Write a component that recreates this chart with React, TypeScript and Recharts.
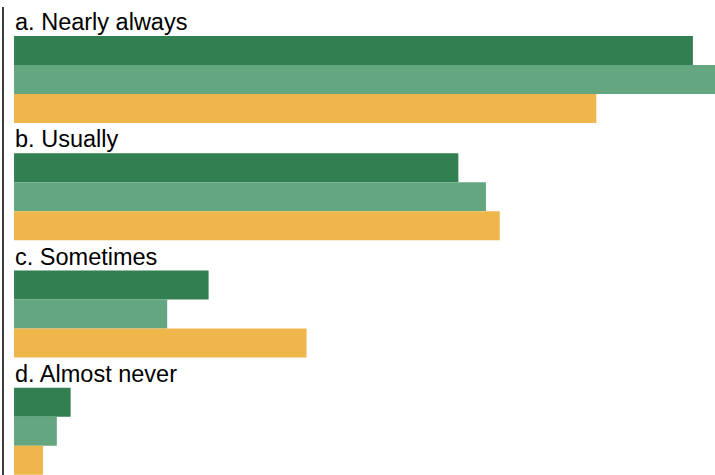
import React from "react";
import { BarChart, Bar, XAxis, YAxis, LabelList } from "recharts";

const categories = ["a. Nearly always", "b. Usually", "c. Sometimes", "d. Almost never"];
const seriesDark = [49.2, 32.2, 14.1, 4.1];
const seriesLight = [51.6, 34.2, 11.1, 3.1];
const seriesYellow = [42.2, 35.2, 21.2, 2.1];
const spacer = [0, 0, 0, 0];

const data = categories.map((label, i) => ({
  label,
  spacer: spacer[i],
  dark: seriesDark[i],
  light: seriesLight[i],
  yellow: seriesYellow[i],
}));

const renderLabel = (props: any) => {
  const { x, y, value } = props;
  return (
    <text
      x={Number(x) + 1}
      y={Number(y) - 6}
      fontFamily="'Liberation Sans', Arial, sans-serif"
      fontSize={23.5}
      fill="#000"
      textAnchor="start"
    >
      {value}
    </text>
  );
};

export default function App() {
  return (
    <div
      style={{
        position: "absolute",
        top: 0,
        left: 0,
        width: 715,
        height: 475,
        overflow: "hidden",
        background: "#fff",
      }}
    >
      <BarChart
        width={715}
        height={476}
        data={data}
        layout="vertical"
        margin={{ top: 7, right: 0, bottom: 0, left: 0 }}
        barGap={0}
        barCategoryGap={0}
      >
        <XAxis type="number" domain={[-0.8, 50.8]} allowDataOverflow hide />
        <YAxis
          type="category"
          dataKey="label"
          width={3}
          tick={false}
          tickLine={false}
          axisLine={{ stroke: "#000", strokeWidth: 1.5 }}
        />
        <Bar dataKey="spacer" fill="transparent" isAnimationActive={false} />
        <Bar dataKey="dark" fill="#328052" isAnimationActive={false}>
          <LabelList dataKey="label" content={renderLabel} />
        </Bar>
        <Bar dataKey="light" fill="#63a680" isAnimationActive={false} />
        <Bar dataKey="yellow" fill="#efb64c" isAnimationActive={false} />
      </BarChart>
    </div>
  );
}
